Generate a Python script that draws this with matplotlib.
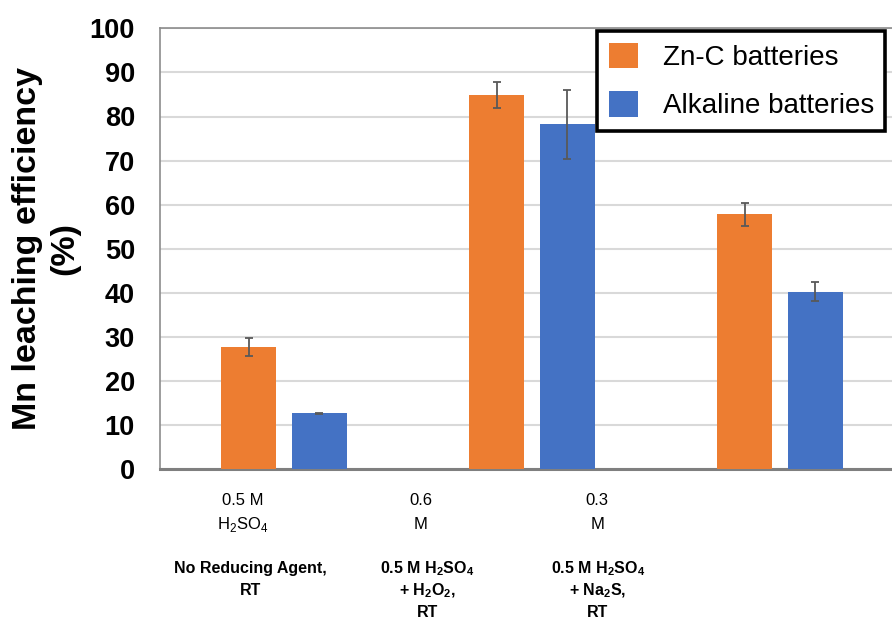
import matplotlib
matplotlib.use("Agg")
import matplotlib.pyplot as plt
import matplotlib.transforms as mtransforms
import numpy as np

# ── Data ──────────────────────────────────────────────────
series_names = ["Zn-C batteries", "Alkaline batteries"]
znc_eff = [27.7, 84.9, 57.8]
znc_err = [2.0, 3.0, 2.6]
alk_eff = [12.7, 78.2, 40.3]
alk_err = [0.15, 7.8, 2.2]

conc_labels = [["0.5 M", r"H$_2$SO$_4$"], ["0.6", "M"], ["0.3", "M"]]
cond_labels = [
    ["No Reducing Agent,", "RT"],
    [r"0.5 M H$_\mathbf{2}$SO$_\mathbf{4}$", r"+ H$_\mathbf{2}$O$_\mathbf{2}$,", "RT"],
    [r"0.5 M H$_\mathbf{2}$SO$_\mathbf{4}$", r"+ Na$_\mathbf{2}$S,", "RT"],
]
yticks = [0, 10, 20, 30, 40, 50, 60, 70, 80, 90, 100]

ORANGE = "#ED7D31"
BLUE = "#4472C4"
ERR = "#595959"

plt.rcParams["font.family"] = ["Liberation Sans", "DejaVu Sans"]
plt.rcParams["mathtext.fontset"] = "custom"
plt.rcParams["mathtext.rm"] = "Liberation Sans"
plt.rcParams["mathtext.bf"] = "Liberation Sans:bold"

W, H = 892, 621
fig = plt.figure(figsize=(W / 100, H / 100), dpi=100)
ax = fig.add_axes([160 / W, 1 - 469.3 / H, 744 / W, (469.3 - 28.3) / H])

x = np.arange(len(znc_eff))
bw = 0.222
off = 0.143
err_kw = dict(ecolor=ERR, elinewidth=1.3, capsize=2.8, capthick=1.3)
ax.bar(x - off, znc_eff, bw, yerr=znc_err, color=ORANGE, label=series_names[0],
       error_kw=err_kw, zorder=3)
ax.bar(x + off, alk_eff, bw, yerr=alk_err, color=BLUE, label=series_names[1],
       error_kw=err_kw, zorder=3)

ax.set_xlim(-0.5, 2.5)
ax.set_ylim(0, 100)
ax.set_yticks(yticks)
ax.set_yticklabels([str(t) for t in yticks], fontsize=19.5, fontweight="bold")
ax.tick_params(axis="y", length=0, pad=18)
ax.set_xticks([])
ax.yaxis.grid(True, color="#d9d9d9", lw=1.5, zorder=0)
ax.set_axisbelow(True)

for side in ["left", "top", "right"]:
    ax.spines[side].set_color("#8c8c8c")
    ax.spines[side].set_linewidth(1.2)
ax.spines["bottom"].set_color("#7f7f7f")
ax.spines["bottom"].set_linewidth(2.2)

ax.set_ylabel("Mn leaching efficiency\n(%)", fontsize=24.5, fontweight="bold",
              linespacing=1.28)
ax.yaxis.set_label_coords(-0.107, 0.5)

# ── Category labels below the axis (placed as in the original slide) ──
trans = mtransforms.blended_transform_factory(ax.transData, fig.transFigure)
conc_x = [-0.165, 0.55, 1.263]
cond_x = [-0.137, 0.577, 1.266]
for i, lines in enumerate(conc_labels):
    for k, line in enumerate(lines):
        fig.text(conc_x[i], 1 - (505 + 24 * k) / H, line, transform=trans,
                 ha="center", va="baseline", fontsize=12)
for i, lines in enumerate(cond_labels):
    for k, line in enumerate(lines):
        fig.text(cond_x[i], 1 - (573 + 22 * k) / H, line, transform=trans,
                 ha="center", va="baseline", fontsize=11.5, fontweight="bold")

leg = ax.legend(loc="upper left", bbox_to_anchor=(597 / W, 1 - 31 / H),
                bbox_transform=fig.transFigure, fontsize=20, fancybox=False,
                handlelength=1.04, handleheight=1.04, handletextpad=0.9,
                labelspacing=0.72, borderpad=0.42, borderaxespad=0)
leg.get_frame().set_edgecolor("black")
leg.get_frame().set_linewidth(2.6)
leg.get_frame().set_alpha(1)

fig.savefig("out.png", dpi=100)
